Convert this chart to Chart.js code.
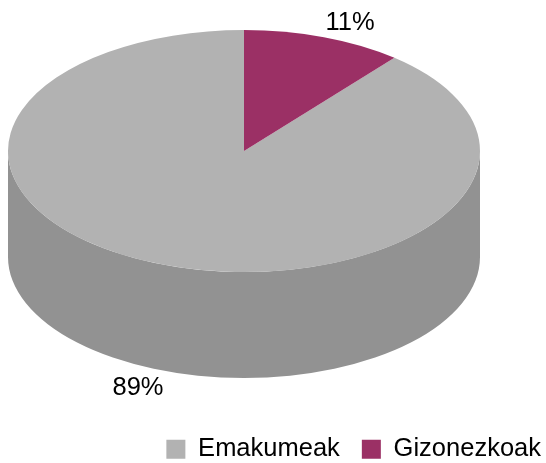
<!DOCTYPE html>
<html>
<head>
<meta charset="utf-8">
<style>html,body{margin:0;padding:0;background:#fff}#w{width:546px;height:463px;position:relative}</style>
<script src="https://cdn.jsdelivr.net/npm/chart.js@4/dist/chart.umd.min.js"></script>
</head>
<body>
<div id="w"><canvas id="c" width="546" height="463"></canvas></div>
<script>
const categories = ['Emakumeak', 'Gizonezkoak'];
const values = [89, 11];
const topColors = ['#b2b2b2', '#9b3065'];
const sideColors = ['#929292', '#6f2248'];
const percentLabels = ['89%', '11%'];

const FONT = '"Liberation Sans", Arial, sans-serif';
const view = {cx: 244, cy: 151, rx: 236, ry: 121, depth: 106};
const labelAt = [{x: 138, y: 388}, {x: 350, y: 23}];

const pie3d = {
  id: 'pie3d',
  beforeDatasetsDraw(chart) {
    const ctx = chart.ctx, arcs = chart.getDatasetMeta(0).data, TAU = Math.PI * 2;
    ctx.save();
    arcs.forEach((arc, i) => {
      for (const shift of [-TAU, 0, TAU]) {
        const a0 = Math.max(arc.startAngle + shift, 0);
        const a1 = Math.min(arc.endAngle + shift, Math.PI);
        if (a1 <= a0) continue;
        ctx.beginPath();
        ctx.ellipse(view.cx, view.cy, view.rx, view.ry, 0, a0, a1);
        ctx.ellipse(view.cx, view.cy + view.depth, view.rx, view.ry, 0, a1, a0, true);
        ctx.closePath();
        ctx.fillStyle = sideColors[i];
        ctx.fill();
      }
    });
    ctx.restore();
    const a = arcs[0];
    const k = view.ry / view.rx;
    ctx.save();
    ctx.translate(view.cx, view.cy);
    ctx.scale(1, k);
    ctx.translate(-a.x, -a.y);
  },
  afterDatasetsDraw(chart) {
    const ctx = chart.ctx;
    ctx.restore();
    ctx.save();
    ctx.font = '25.5px ' + FONT;
    ctx.fillStyle = '#000';
    ctx.textAlign = 'center';
    ctx.textBaseline = 'middle';
    percentLabels.forEach((t, i) => ctx.fillText(t, labelAt[i].x, labelAt[i].y));
    ctx.restore();
  }
};

new Chart(document.getElementById('c'), {
  type: 'pie',
  data: {
    labels: categories,
    datasets: [{data: values, backgroundColor: topColors, borderWidth: 0, clip: false}]
  },
  options: {
    responsive: false,
    animation: false,
    events: [],
    radius: view.rx,
    rotation: 360 * values[1] / 100,
    layout: {padding: {left: 0, right: -17, top: 0, bottom: -9}},
    plugins: {
      tooltip: {enabled: false},
      title: {display: false},
      legend: {
        position: 'bottom',
        align: 'end',
        labels: {
          boxWidth: 19,
          boxHeight: 19,
          padding: 22,
          color: '#000',
          font: {family: FONT, size: 25.5}
        }
      }
    }
  },
  plugins: [pie3d]
});
</script>
</body>
</html>
